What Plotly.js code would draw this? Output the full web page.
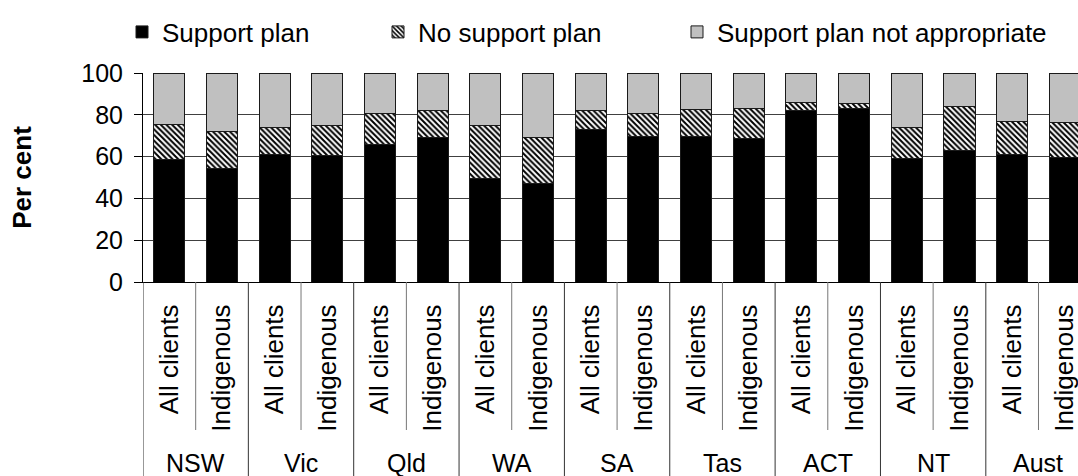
<!DOCTYPE html>
<html>
<head>
<meta charset="utf-8">
<script src="https://cdn.plot.ly/plotly-3.0.1.min.js"></script>
<style>html,body{margin:0;padding:0;background:#fff;}#chart{width:1078px;height:476px;}</style>
</head>
<body>
<div id="chart"></div>
<script>
const groups = ['NSW', 'Vic', 'Qld', 'WA', 'SA', 'Tas', 'ACT', 'NT', 'Aust'];
const subgroups = ['All clients', 'Indigenous'];
const supportPlan = [58.4, 54.4, 61.0, 60.5, 65.9, 69.0, 49.4, 46.9, 72.8, 69.4, 69.4, 68.5, 81.9, 83.2, 58.9, 62.7, 61.1, 59.4];
const noSupportPlan = [17.1, 17.4, 13.1, 14.5, 14.6, 12.9, 25.3, 22.4, 9.4, 11.4, 13.3, 14.7, 4.2, 2.4, 15.2, 21.3, 15.5, 16.9];
const planNotAppropriate = [24.5, 28.2, 25.9, 25.0, 19.5, 18.1, 25.3, 30.7, 17.8, 19.2, 17.3, 16.8, 13.9, 14.4, 25.9, 16.0, 23.4, 23.7];
const yTicks = [0, 20, 40, 60, 80, 100];

// category positions and their inner labels, built from the arrays above
const nSub = subgroups.length;
const innerLabels = [];
groups.forEach(() => subgroups.forEach(s => innerLabels.push(s)));
const xPos = innerLabels.map((_, i) => i);

const FONT = 'Liberation Sans, Arial, sans-serif';
const line = {color: '#1a1a1a', width: 1};

const traces = [
  {type: 'bar', name: 'Support plan', x: xPos, y: supportPlan, legend: 'legend',
   marker: {color: '#000000', line: line}},
  {type: 'bar', name: 'No support plan', x: xPos, y: noSupportPlan, legend: 'legend2',
   marker: {color: '#ffffff', line: line,
            pattern: {shape: '\\', fgcolor: '#000000', bgcolor: '#ffffff', size: 4, solidity: 0.5}}},
  {type: 'bar', name: 'Support plan not appropriate', x: xPos, y: planNotAppropriate, legend: 'legend3',
   marker: {color: '#c0c0c0', line: line}}
];

const M = {l: 143, r: 0, t: 73, b: 194};
const plotH = 476 - M.t - M.b;
const shapes = [];
// group dividers (full height of the label band)
for (let i = 0; i <= groups.length; i++) {
  shapes.push({type: 'line', xref: 'x', yref: 'paper',
    x0: i * nSub - 0.5, x1: i * nSub - 0.5, y0: 0, y1: -(M.b + 5) / plotH,
    line: {color: '#333', width: 1}, layer: 'above'});
}
// separators between sub-categories
groups.forEach((g, i) => {
  shapes.push({type: 'line', xref: 'x', yref: 'paper',
    x0: i * nSub + 0.5, x1: i * nSub + 0.5, y0: 0, y1: -148 / plotH,
    line: {color: '#777', width: 1}, layer: 'above'});
});

const annotations = groups.map((g, i) => ({
  text: g, xref: 'x', yref: 'paper', x: i * nSub + (nSub - 1) / 2,
  y: -(463 - 282) / plotH, xanchor: 'center', yanchor: 'middle',
  showarrow: false, font: {size: 25, family: FONT, color: '#000'}
}));

function legendAt(px) {
  return {orientation: 'h', xref: 'container', yref: 'container',
          x: px / 1078, xanchor: 'left', y: 1 - 32 / 476, yanchor: 'middle',
          bgcolor: 'rgba(0,0,0,0)', font: {size: 26, family: FONT}};
}

const layout = {
  width: 1078, height: 476,
  margin: {l: M.l, r: M.r, t: M.t, b: M.b, pad: 0},
  paper_bgcolor: '#ffffff', plot_bgcolor: '#ffffff',
  font: {family: FONT, size: 26, color: '#000'},
  barmode: 'stack', bargap: 0.41,
  showlegend: true,
  legend: legendAt(122),
  legend2: legendAt(378),
  legend3: legendAt(677),
  shapes: shapes,
  annotations: annotations,
  xaxis: {type: 'linear', range: [-0.5, 17.25], showgrid: false, zeroline: false,
          showline: true, linecolor: '#000', linewidth: 1,
          tickvals: xPos, ticktext: innerLabels,
          ticks: '', ticklabelstandoff: 11, ticklabeloverflow: 'allow',
          tickangle: -90, tickfont: {size: 26, family: FONT},
          automargin: false, fixedrange: true},
  yaxis: {range: [0, 100], tickvals: yTicks, showgrid: true, gridcolor: '#404040', gridwidth: 1,
          showline: true, linecolor: '#000', linewidth: 1, zeroline: false,
          ticks: 'outside', ticklen: 8, tickcolor: '#000',
          tickfont: {size: 25, family: FONT}, ticklabelstandoff: 6,
          title: {text: '<b>Per cent</b>', font: {size: 26, family: FONT}, standoff: 42},
          automargin: false, fixedrange: true}
};

Plotly.newPlot('chart', traces, layout, {displayModeBar: false, staticPlot: true});
</script>
</body>
</html>
